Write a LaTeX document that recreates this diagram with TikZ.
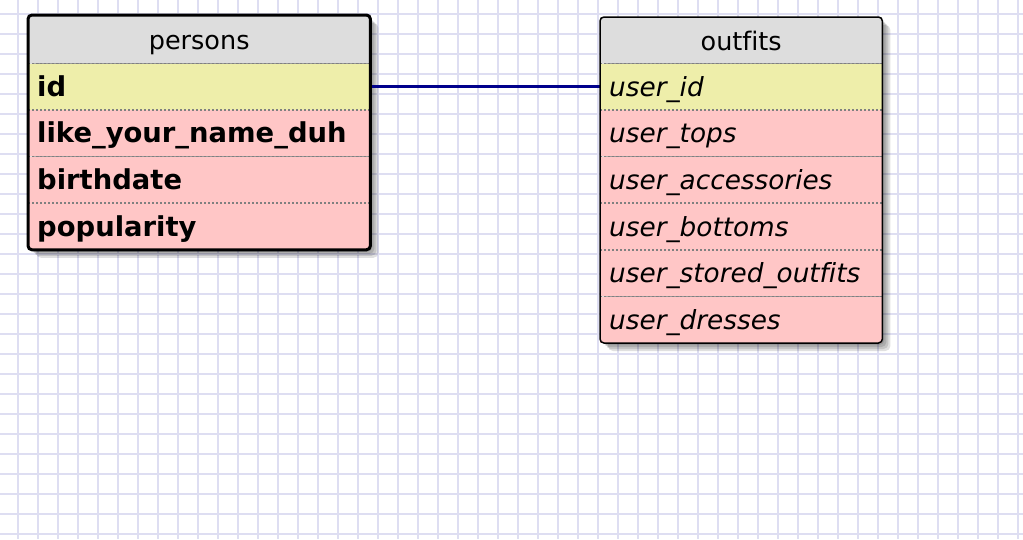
\documentclass[tikz,border=0pt]{standalone}
\usepackage{fontspec}
\setmainfont[Ligatures=NoCommon]{DejaVu Sans}
\usetikzlibrary{positioning,backgrounds}

\definecolor{gridcol}{RGB}{222,222,242}
\definecolor{headcol}{RGB}{221,221,221}
\definecolor{keycol}{RGB}{238,238,170}
\definecolor{rowcol}{RGB}{255,198,198}
\definecolor{dotcol}{RGB}{128,128,128}
\definecolor{linkcol}{RGB}{0,0,140}

\tikzset{
  gridrule/.style={gridcol, line width=1.8pt},
  head/.style={anchor=north west, fill=headcol, inner sep=0pt, text height=20pt, text depth=0pt,
    font=\fontsize{25.5}{30}\selectfont},
  field/.style={anchor=north west, fill=rowcol, inner xsep=9pt, inner ysep=0pt,
    minimum height=46.2pt, text height=19pt, text depth=0pt, align=left},
  keyfield/.style={field, fill=keycol},
  pcell/.style={text width=324pt, font=\fontsize{27.4}{32}\selectfont\bfseries},
  ocell/.style={text width=264pt, font=\fontsize{26.3}{31}\selectfont\itshape},
  rowsep/.style={dotcol, line width=1.5pt, dash pattern=on 2pt off 2pt},
  tablebox/.style={draw=black, rounded corners=4pt},
  boxshadow/.style={fill=black, opacity=0.12, rounded corners=5pt},
  link/.style={linkcol, line width=3pt}
}

\begin{document}
\begin{tikzpicture}[x=1pt,y=-1pt]
\useasboundingbox (0,0) rectangle (1023,539);

% persons
\node[head, minimum width=342pt, minimum height=48pt] (persons) at (28,15) {persons};
\node[keyfield, pcell] (p-id) at (persons.south west) {id};
\foreach \n/\t [remember=\n as \last (initially p-id)] in
    {p-name/like\_your\_name\_duh, p-birth/birthdate, p-pop/popularity}
  \node[field, pcell] (\n) at (\last.south west) {\t};

% outfits
\node[head, minimum width=282pt, minimum height=46pt] (outfits) at (600,17) {outfits};
\node[keyfield, ocell] (o-uid) at (outfits.south west) {user\_id};
\foreach \n/\t [remember=\n as \last (initially o-uid)] in
    {o-tops/user\_tops, o-acc/user\_accessories, o-bot/user\_bottoms,
     o-stored/user\_stored\_outfits, o-dress/user\_dresses}
  \node[field, ocell] (\n) at (\last.south west) {\t};

\foreach \n in {p-id,p-name,p-birth,p-pop,o-uid,o-tops,o-acc,o-bot,o-stored,o-dress}
  \draw[rowsep] (\n.north west) -- (\n.north east);

\draw[link] (p-id.east) -- (o-uid.west);

\draw[tablebox, line width=3pt] (persons.north west) rectangle (p-pop.south east);
\draw[tablebox, line width=1.5pt] (outfits.north west) rectangle (o-dress.south east);

\begin{pgfonlayer}{background}
  \foreach \gx in {18,38,...,1018}
    \draw[gridrule] (\gx,0) -- (\gx,539);
  \foreach \gy in {14,34,...,534}
    \draw[gridrule] (0,\gy) -- (1023,\gy);
  \foreach \s in {2,4,6,8} {
    \fill[boxshadow] ([shift={(\s,\s)}]persons.north west) rectangle ([shift={(\s,\s)}]p-pop.south east);
    \fill[boxshadow] ([shift={(\s,\s)}]outfits.north west) rectangle ([shift={(\s,\s)}]o-dress.south east);
  }
\end{pgfonlayer}
\end{tikzpicture}
\end{document}
